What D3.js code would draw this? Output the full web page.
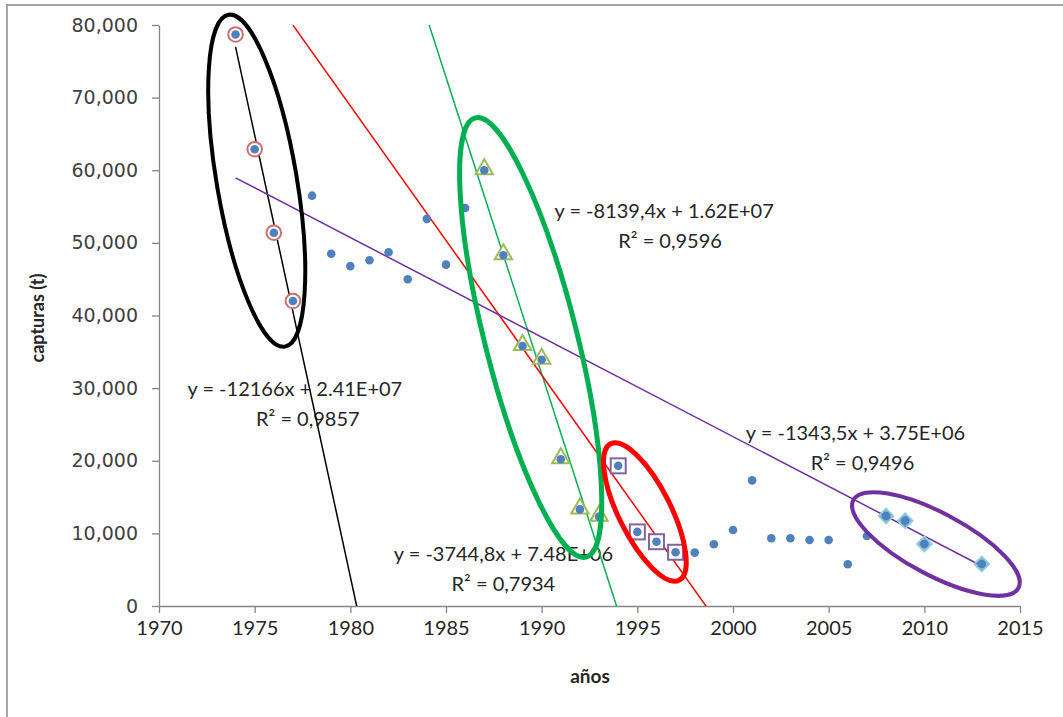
<!DOCTYPE html>
<html>
<head>
<meta charset="utf-8">
<script src="https://cdn.jsdelivr.net/npm/d3@7"></script>
<style>
  body { margin: 0; background: #fff; }
  svg { display: block; }
</style>
</head>
<body>
<svg id="canvas"></svg>
<script>
// capturas anuales (t)
let years = [1974, 1975, 1976, 1977, 1978, 1979, 1980, 1981, 1982, 1983, 1984, 1985, 1986,
  1987, 1988, 1989, 1990, 1991, 1992, 1993, 1994, 1995, 1996, 1997, 1998, 1999, 2000,
  2001, 2002, 2003, 2004, 2005, 2006, 2007, 2008, 2009, 2010, 2013]
let catches = [78700, 62900, 51400, 42000, 56500, 48500, 46800, 47600, 48700, 45000, 53300, 47000, 54800,
  60000, 48300, 35800, 33900, 20200, 13300, 12300, 19300, 10200, 8850, 7400, 7350, 8500, 10460,
  17300, 9320, 9320, 9090, 9090, 5740, 9640, 12390, 11750, 8540, 5780]

// grupos con su tendencia
let groupNames = ['g1', 'g2', 'g3', 'g4']
let groupYears = [
  [1974, 1975, 1976, 1977],
  [1987, 1988, 1989, 1990, 1991, 1992, 1993],
  [1994, 1995, 1996, 1997],
  [2008, 2009, 2010, 2013]
]
let groupEq = ['y = -12166x + 2.41E+07', 'y = -8139,4x + 1.62E+07', 'y = -3744,8x + 7.48E+06', 'y = -1343,5x + 3.75E+06']
let groupR2 = ['R² = 0,9857', 'R² = 0,9596', 'R² = 0,7934', 'R² = 0,9496']
// where each equation label sits (year, catch)
let labelYear = [1977.1, 1996.4, 1988.0, 2006.4]
let labelValue = [30000, 54500, 7300, 24000]

let xTicks = [1970, 1975, 1980, 1985, 1990, 1995, 2000, 2005, 2010, 2015]
let yTicks = [0, 10000, 20000, 30000, 40000, 50000, 60000, 70000, 80000]

let width = 1063
let height = 717
let pLeft = 159, pRight = 1020, pTop = 25, pBottom = 606

let canvas = d3.select('#canvas').attr('width', width).attr('height', height)

let xScale = d3.scaleLinear().domain([1970, 2015]).range([pLeft, pRight])
let yScale = d3.scaleLinear().domain([0, 80000]).range([pBottom, pTop])

let values = years.map((y, i) => ({ year: y, catch: catches[i] }))
let valueOf = y => catches[years.indexOf(y)]

// style per group
let style = {
  g1: { line: '#000000', ring: '#000000', ringW: 4, from: 1974, to: 2000, dx: -7.5, dy: 13, padA: 32, dAng: 2.5, b: 40 },
  g2: { line: '#00b050', ring: '#00b050', ringW: 5, from: 1980, to: 2000, dx: -11, dy: -6, padA: 44, dAng: 4.2, b: 46 },
  g3: { line: '#ff0000', ring: '#ff0000', ringW: 5, from: 1977, to: 2005, dx: -2, dy: 3, padA: 24.4, dAng: 7, b: 26 },
  g4: { line: '#7030a0', ring: '#7030a0', ringW: 4, from: 1974, to: 2013, dx: 2, dy: 4, padA: 40, dAng: 1.4, b: 31 }
}
let labelDx2 = [13, 6, 0, 7]

let font = 'Lato, "Noto Sans", sans-serif'

// chart border
canvas.append('rect')
  .attr('x', 7).attr('y', 5)
  .attr('width', width + 20).attr('height', height + 20)
  .attr('fill', '#fff')
  .attr('stroke', '#a6a6a6')
  .attr('stroke-width', 2)

// axes
let xAxis = d3.axisBottom(xScale).tickValues(xTicks).tickFormat(d3.format('d')).tickSizeInner(7).tickSizeOuter(0).tickPadding(8)
let yAxis = d3.axisLeft(yScale).tickValues(yTicks).tickFormat(d3.format(',')).tickSizeInner(7).tickSizeOuter(0).tickPadding(14)

let gx = canvas.append('g')
  .attr('transform', 'translate(0,' + pBottom + ')')
  .call(xAxis)
gx.select('.domain').attr('stroke', '#868686').attr('stroke-width', 1.3)
gx.selectAll('.tick line').attr('stroke', '#868686').attr('stroke-width', 1.3)
gx.selectAll('.tick text')
  .attr('fill', '#262626')
  .style('font-family', font)
  .style('font-size', '20px')

let gy = canvas.append('g')
  .attr('transform', 'translate(' + pLeft + ',0)')
  .call(yAxis)
gy.select('.domain').attr('stroke', '#868686').attr('stroke-width', 1.3)
gy.selectAll('.tick line').attr('stroke', '#868686').attr('stroke-width', 1.3)
gy.selectAll('.tick text')
  .attr('fill', '#404040')
  .style('font-family', '"DejaVu Sans", Verdana, sans-serif')
  .style('font-size', '19px')

// axis titles
canvas.append('text')
  .attr('x', 590)
  .attr('y', 683)
  .attr('text-anchor', 'middle')
  .style('font-family', font)
  .style('font-weight', 'bold')
  .style('font-size', '19px')
  .attr('fill', '#262626')
  .text('años')

canvas.append('text')
  .attr('transform', 'translate(44,318) rotate(-90)')
  .attr('text-anchor', 'middle')
  .style('font-family', font)
  .style('font-weight', 'bold')
  .style('font-size', '18px')
  .attr('fill', '#262626')
  .text('capturas (t)')

// least squares fit of a group
let fit = ys => {
  let pts = ys.map(y => [y, valueOf(y)])
  let mx = d3.mean(pts, p => p[0]), my = d3.mean(pts, p => p[1])
  let sxy = d3.sum(pts, p => (p[0] - mx) * (p[1] - my))
  let sxx = d3.sum(pts, p => (p[0] - mx) ** 2)
  let m = sxy / sxx
  return { m: m, b: my - m * mx }
}

// equation labels
groupNames.forEach((g, i) => {
  let cx = xScale(labelYear[i]), cy = yScale(labelValue[i])
  canvas.append('text')
    .attr('x', cx).attr('y', cy)
    .attr('text-anchor', 'middle')
    .attr('dominant-baseline', 'central')
    .style('font-family', font)
    .style('font-size', '20px')
    .attr('fill', '#262626')
    .text(groupEq[i])
  canvas.append('text')
    .attr('x', cx + labelDx2[i]).attr('y', cy + 30)
    .attr('text-anchor', 'middle')
    .attr('dominant-baseline', 'central')
    .style('font-family', font)
    .style('font-size', '20px')
    .attr('fill', '#262626')
    .text(groupR2[i])
})

// trend lines, clipped to the plot
canvas.append('clipPath').attr('id', 'plot')
  .append('rect').attr('x', pLeft).attr('y', pTop).attr('width', pRight - pLeft).attr('height', pBottom - pTop)

groupNames.forEach((g, i) => {
  let f = fit(groupYears[i])
  let s = style[g]
  canvas.append('line')
    .attr('clip-path', 'url(#plot)')
    .attr('x1', xScale(s.from)).attr('y1', yScale(f.m * s.from + f.b))
    .attr('x2', xScale(s.to)).attr('y2', yScale(f.m * s.to + f.b))
    .attr('stroke', s.line)
    .attr('stroke-width', 1.5)
})

// group markers
canvas.selectAll('.ring')
  .data(groupYears[0])
  .enter().append('circle')
  .attr('cx', d => xScale(d)).attr('cy', d => yScale(valueOf(d)))
  .attr('r', 7.3)
  .attr('fill', '#fff')
  .attr('stroke', '#d0706d')
  .attr('stroke-width', 2)

canvas.selectAll('.tri')
  .data(groupYears[1])
  .enter().append('path')
  .attr('d', d3.symbol().type(d3.symbolTriangle).size(130)())
  .attr('transform', d => 'translate(' + xScale(d) + ',' + (yScale(valueOf(d)) - 1) + ')')
  .attr('fill', '#fff')
  .attr('stroke', '#9bbb59')
  .attr('stroke-width', 2)

canvas.selectAll('.sq')
  .data(groupYears[2])
  .enter().append('rect')
  .attr('x', d => xScale(d) - 7.5).attr('y', d => yScale(valueOf(d)) - 7.5)
  .attr('width', 15).attr('height', 15)
  .attr('fill', '#fff')
  .attr('stroke', '#8064a2')
  .attr('stroke-width', 2)

canvas.selectAll('.dia')
  .data(groupYears[3])
  .enter().append('path')
  .attr('d', d3.symbol().type(d3.symbolDiamond2).size(150)())
  .attr('transform', d => 'translate(' + xScale(d) + ',' + yScale(valueOf(d)) + ')')
  .attr('fill', '#4bacc6')
  .attr('fill-opacity', 0.75)
  .attr('stroke', '#93cddd')
  .attr('stroke-width', 1.5)

// all points
canvas.selectAll('.pt')
  .data(values)
  .enter().append('circle')
  .attr('cx', d => xScale(d.year))
  .attr('cy', d => yScale(d.catch))
  .attr('r', 4.3)
  .attr('fill', '#4f81bd')

// ellipses around each group
groupNames.forEach((g, i) => {
  let s = style[g]
  let ys = groupYears[i]
  let p0 = [xScale(ys[0]), yScale(valueOf(ys[0]))]
  let p1 = [xScale(ys[ys.length - 1]), yScale(valueOf(ys[ys.length - 1]))]
  let cx = (p0[0] + p1[0]) / 2 + s.dx
  let cy = (p0[1] + p1[1]) / 2 + s.dy
  let ang = Math.atan2(p1[1] - p0[1], p1[0] - p0[0]) * 180 / Math.PI + s.dAng
  let a = Math.hypot(p1[0] - p0[0], p1[1] - p0[1]) / 2 + s.padA
  canvas.append('ellipse')
    .attr('cx', 0).attr('cy', 0)
    .attr('rx', a).attr('ry', s.b)
    .attr('transform', 'translate(' + cx + ',' + cy + ') rotate(' + ang + ')')
    .attr('fill', 'none')
    .attr('stroke', s.ring)
    .attr('stroke-width', s.ringW)
})
</script>
</body>
</html>
